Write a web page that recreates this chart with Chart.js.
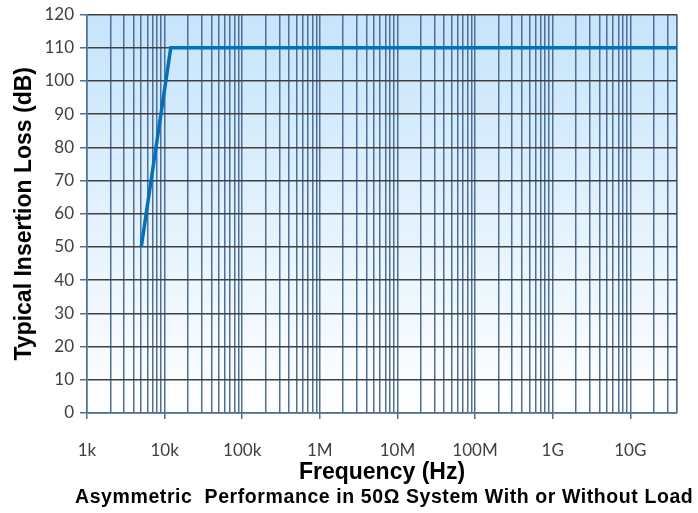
<!DOCTYPE html>
<html>
<head>
<meta charset="utf-8">
<script src="https://cdn.jsdelivr.net/npm/chart.js@4/dist/chart.umd.min.js"></script>
<style>
  html, body { margin: 0; padding: 0; background: #fff; }
  #wrap { width: 698px; height: 513px; }
</style>
</head>
<body>
<div id="wrap"><canvas id="lossChart"></canvas></div>
<script>
// chart data
const freqHz = [5000, 12000, 40e9];
const lossDb = [50, 110, 110];

// axis ticks
const decadeValues = [1e3, 1e4, 1e5, 1e6, 1e7, 1e8, 1e9, 1e10];
const decadeLabels = ['1k', '10k', '100k', '1M', '10M', '100M', '1G', '10G'];
const minorSteps = [1, 2, 3, 4, 5, 6, 7, 8, 9];
const xMin = 1e3, xMax = 4e10;
const yMin = 0, yMax = 120, yStep = 10;
const subtitle = 'Asymmetric  Performance in 50\u03A9 System With or Without Load';

const gridBlue = '#4d6f9c';
const gridDark = '#404040';

function isDecade(v) {
  return decadeValues.indexOf(v) !== -1;
}

// plot background gradient + subtitle line
const plotExtras = {
  id: 'plotExtras',
  beforeDraw(chart) {
    const { ctx, chartArea: a } = chart;
    const g = ctx.createLinearGradient(0, a.top, 0, a.bottom);
    g.addColorStop(0, '#c6e4fb');
    g.addColorStop(1, '#ffffff');
    ctx.save();
    ctx.fillStyle = g;
    ctx.fillRect(a.left, a.top, a.right - a.left, a.bottom - a.top);
    ctx.restore();
  },
  afterDraw(chart) {
    const { ctx } = chart;
    ctx.save();
    ctx.font = 'bold 19.5px "Liberation Sans", Arial, sans-serif';
    ctx.fillStyle = '#000';
    ctx.textAlign = 'left';
    ctx.textBaseline = 'middle';
    // spread to the same span as the original line
    const w = ctx.measureText(subtitle).width;
    const gap = Math.max(0, (618 - w) / (subtitle.length - 1));
    ctx.letterSpacing = gap.toFixed(2) + 'px';
    ctx.fillText(subtitle, 75, 498);
    ctx.restore();
  }
};

const ctx = document.getElementById('lossChart');
new Chart(ctx, {
  type: 'line',
  data: {
    datasets: [{
      data: freqHz.map((f, i) => ({ x: f, y: lossDb[i] })),
      borderColor: '#0070c0',
      borderWidth: 3.5,
      pointRadius: 0,
      tension: 0,
      fill: false
    }]
  },
  plugins: [plotExtras],
  options: {
    responsive: true,
    maintainAspectRatio: false,
    animation: false,
    layout: { padding: { top: 2, right: 21, left: 0, bottom: 0 } },
    plugins: {
      legend: { display: false },
      tooltip: { enabled: false }
    },
    scales: {
      x: {
        type: 'logarithmic',
        min: xMin,
        max: xMax,
        afterBuildTicks(scale) {
          const ticks = [];
          decadeValues.forEach(d => {
            minorSteps.forEach(m => {
              const v = m * d;
              if (v <= xMax) ticks.push({ value: v });
            });
          });
          ticks.push({ value: xMax });
          scale.ticks = ticks;
        },
        afterFit(scale) { scale.height = 100; },
        border: { color: gridBlue, width: 1.5 },
        grid: {
          color: gridBlue,
          lineWidth: 1.5,
          tickLength: 6,
          tickColor: c => (c.tick && isDecade(c.tick.value)) ? gridBlue : 'rgba(0,0,0,0)'
        },
        ticks: {
          autoSkip: false,
          maxRotation: 0,
          padding: 21,
          color: '#404040',
          font: { family: 'Lato, "Liberation Sans", sans-serif', size: 17 },
          callback: v => {
            const i = decadeValues.indexOf(v);
            return i === -1 ? '' : decadeLabels[i];
          }
        },
        title: {
          display: true,
          text: 'Frequency (Hz)',
          color: '#000',
          font: { family: '"Liberation Sans", Arial, sans-serif', size: 23, weight: 'bold' },
          padding: { top: 0, bottom: 27 }
        }
      },
      y: {
        min: yMin,
        max: yMax,
        afterFit(scale) { scale.width = 87; },
        border: { color: gridBlue, width: 1.5 },
        grid: {
          color: gridDark,
          lineWidth: 1.5,
          tickLength: 7,
          tickColor: gridBlue
        },
        ticks: {
          stepSize: yStep,
          padding: 6,
          color: '#404040',
          font: { family: 'Lato, "Liberation Sans", sans-serif', size: 17, lineHeight: 1 }
        },
        title: {
          display: true,
          text: 'Typical Insertion Loss (dB)',
          color: '#000',
          font: { family: '"Liberation Sans", Arial, sans-serif', size: 23, weight: 'bold' },
          padding: { top: 11, bottom: 0 }
        }
      }
    }
  }
});
</script>
</body>
</html>
